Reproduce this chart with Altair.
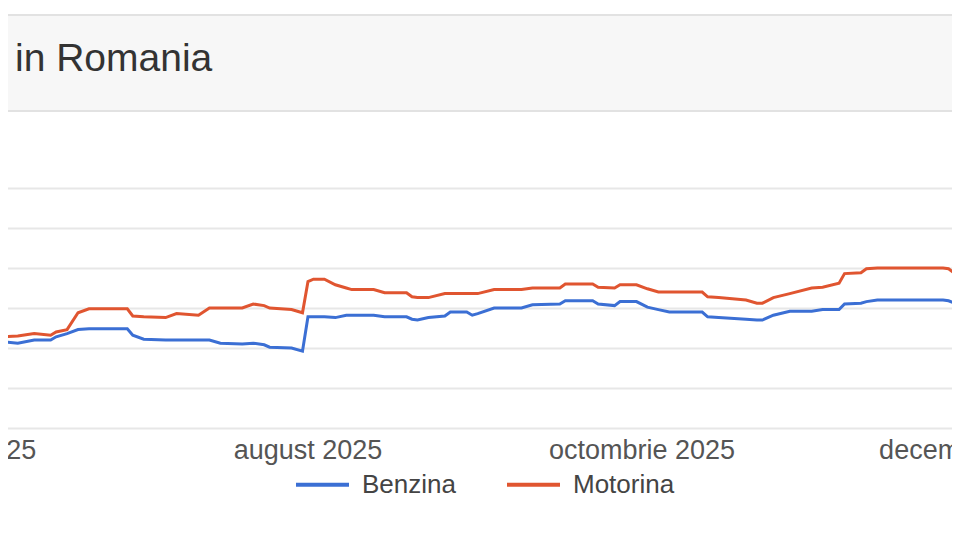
import altair as alt
import pandas as pd

dates = [
    "2025-06-06", "2025-06-09", "2025-06-12", "2025-06-15", "2025-06-16",
    "2025-06-18", "2025-06-20", "2025-06-22", "2025-06-29", "2025-06-30",
    "2025-07-02", "2025-07-06", "2025-07-08", "2025-07-12", "2025-07-14",
    "2025-07-16", "2025-07-20", "2025-07-22", "2025-07-24", "2025-07-25",
    "2025-07-29", "2025-07-31", "2025-08-01", "2025-08-02", "2025-08-04",
    "2025-08-06", "2025-08-08", "2025-08-09", "2025-08-13", "2025-08-15",
    "2025-08-19", "2025-08-20", "2025-08-21", "2025-08-23", "2025-08-26",
    "2025-08-27", "2025-08-30", "2025-08-31", "2025-09-01", "2025-09-04",
    "2025-09-09", "2025-09-11", "2025-09-16", "2025-09-17", "2025-09-22",
    "2025-09-23", "2025-09-26", "2025-09-27", "2025-09-30", "2025-10-02",
    "2025-10-04", "2025-10-06", "2025-10-12", "2025-10-13", "2025-10-15",
    "2025-10-20", "2025-10-22", "2025-10-23", "2025-10-25", "2025-10-28",
    "2025-11-01", "2025-11-03", "2025-11-06", "2025-11-07", "2025-11-10",
    "2025-11-11", "2025-11-13", "2025-11-25", "2025-11-26", "2025-11-28",
]

motorina = [
    7.14, 7.15, 7.18, 7.16, 7.20, 7.23, 7.44, 7.49, 7.49, 7.40,
    7.39, 7.38, 7.43, 7.41, 7.50, 7.50, 7.50, 7.55, 7.53, 7.50,
    7.48, 7.44, 7.83, 7.86, 7.86, 7.79, 7.75, 7.73, 7.73, 7.69,
    7.69, 7.64, 7.63, 7.63, 7.68, 7.68, 7.68, 7.68, 7.68, 7.73,
    7.73, 7.75, 7.75, 7.80, 7.80, 7.76, 7.75, 7.79, 7.79, 7.74,
    7.70, 7.70, 7.70, 7.64, 7.63, 7.60, 7.56, 7.56, 7.63, 7.68,
    7.75, 7.76, 7.81, 7.93, 7.94, 7.99, 8.00, 8.00, 7.99, 7.89,
]

benzina = [
    7.08, 7.06, 7.10, 7.10, 7.14, 7.18, 7.23, 7.24, 7.24, 7.16,
    7.11, 7.10, 7.10, 7.10, 7.10, 7.06, 7.05, 7.06, 7.04, 7.01,
    7.00, 6.96, 7.39, 7.39, 7.39, 7.38, 7.41, 7.41, 7.41, 7.39,
    7.39, 7.36, 7.35, 7.38, 7.40, 7.45, 7.45, 7.41, 7.43, 7.50,
    7.50, 7.54, 7.55, 7.59, 7.59, 7.55, 7.53, 7.58, 7.58, 7.51,
    7.48, 7.45, 7.45, 7.39, 7.38, 7.36, 7.35, 7.35, 7.41, 7.46,
    7.46, 7.48, 7.48, 7.55, 7.56, 7.58, 7.60, 7.60, 7.59, 7.54,
]

series_names = ["Benzina", "Motorina"]
series_colors = ["#3b6fd4", "#e05530"]
y_gridlines = [6.0, 6.5, 7.0, 7.5, 8.0, 8.5, 9.0]
tick_dates = ["2025-06-01", "2025-08-01", "2025-10-01", "2025-12-01"]
tick_labels = ["iunie 2025", "august 2025", "octombrie 2025", "decembrie 2025"]
title_text = "in Romania"

rows = []
for d, b, m in zip(dates, benzina, motorina):
    rows.append({"data": d + "T00:00:00", "serie": "Benzina", "pret": b})
    rows.append({"data": d + "T00:00:00", "serie": "Motorina", "pret": m})
df = pd.DataFrame(rows)

ticks_df = pd.DataFrame({
    "data": [d + "T00:00:00" for d in tick_dates],
    "eticheta": tick_labels,
})

x_scale = alt.Scale(domain=[
    alt.DateTime(year=2025, month=6, date=5, hours=18),
    alt.DateTime(year=2025, month=11, date=28, hours=2, minutes=10),
])

y_enc = alt.Y(
    "pret:Q",
    scale=alt.Scale(domain=[6.0, 9.0], nice=False, zero=False),
    axis=alt.Axis(values=y_gridlines, labels=False, ticks=False, domain=False,
                  title=None, grid=True, gridColor="#e7e7e7", gridWidth=2),
)

lines = alt.Chart(df).mark_line(strokeWidth=3, clip=True).encode(
    x=alt.X("data:T", scale=x_scale, axis=None),
    y=y_enc,
    color=alt.Color("serie:N",
                    scale=alt.Scale(domain=series_names, range=series_colors),
                    legend=alt.Legend(title=None)),
)

month_labels = alt.Chart(ticks_df).mark_text(
    align="center", baseline="alphabetic", fontSize=27,
    font="Liberation Sans", color="#555555"
).encode(
    x=alt.X("data:T", scale=x_scale, axis=None),
    y=alt.value(271),
    text="eticheta:N",
)

box_df = pd.DataFrame({"k": [0]})
title_box = alt.Chart(box_df).mark_rect(
    fill="#f7f7f7", stroke="#e2e2e2", strokeWidth=2
).encode(
    x=alt.value(-4), x2=alt.value(964), y=alt.value(-173), y2=alt.value(-77)
)

title_mark = alt.Chart(box_df).mark_text(
    text=title_text, align="left", baseline="alphabetic", fontSize=39,
    font="Liberation Sans", color="#333333"
).encode(x=alt.value(15), y=alt.value(-117))

chart = alt.layer(title_box, title_mark, lines, month_labels).properties(
    width=960, height=240,
    autosize=alt.AutoSizeParams(type="none"),
    padding={"left": -8, "top": 180, "right": -8, "bottom": 92},
    background="white",
).configure_view(stroke=None).configure_legend(
    orient="none", legendX=294, legendY=268, direction="horizontal",
    symbolType="stroke", symbolSize=2809, symbolStrokeWidth=4,
    labelFontSize=26, labelFont="Liberation Sans", labelColor="#444444",
    columnPadding=43, labelOffset=11,
)

chart.save("out.html", embed_options={"renderer": "svg", "actions": False})
